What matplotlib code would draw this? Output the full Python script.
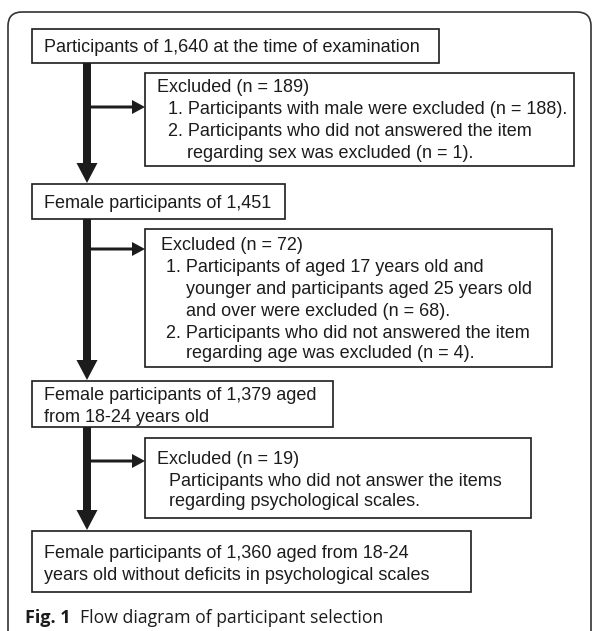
import matplotlib.pyplot as plt
from matplotlib.patches import Rectangle, FancyBboxPatch, FancyArrow

plt.rcParams['font.family'] = ['Liberation Sans', 'DejaVu Sans']

# counts in the flow
n_start = 1640
n_excl = [189, 72, 19]
n_after = [1451, 1379, 1360]

main_lines = [
    ["Participants of 1,640 at the time of examination"],
    ["Female participants of 1,451"],
    ["Female participants of 1,379 aged", "from 18-24 years old"],
    ["Female participants of 1,360 aged from 18-24",
     "years old without deficits in psychological scales"],
]
excl_lines = [
    [("Excluded (n = 189)", 0),
     ("1. Participants with male were excluded (n = 188).", 1),
     ("2. Participants who did not answered the item", 1),
     ("regarding sex was excluded (n = 1).", 2)],
    [("Excluded (n = 72)", 0),
     ("1. Participants of aged 17 years old and", 1),
     ("younger and participants aged 25 years old", 2),
     ("and over were excluded (n = 68).", 2),
     ("2. Participants who did not answered the item", 1),
     ("regarding age was excluded (n = 4).", 2)],
    [("Excluded (n = 19)", 0),
     ("Participants who did not answer the items", 1),
     ("regarding psychological scales.", 1)],
]
caption_bold = "Fig. 1"
caption_text = "Flow diagram of participant selection"

# layout in pixels (x0, y0, x1, y1), y pointing down
main_boxes = [(32, 29, 439, 63), (32, 184, 285, 219),
              (32, 381, 333, 427), (32, 531, 471, 592)]
main_text_y = [[47], [203], [395, 417], [554, 575]]
excl_boxes = [(145, 73, 574, 166), (145, 229, 552, 367), (145, 438, 531, 518)]
excl_text_y = [[88, 110, 131, 153],
               [246, 268, 289, 311, 333, 354],
               [459, 481, 502]]
indent_x = [{0: 157, 1: 168, 2: 187},
            {0: 161, 1: 166, 2: 186},
            {0: 157, 1: 169, 2: 169}]
branch_y = [107, 249, 461]

ink = '#1c1c1c'
fs = 13.0

fig = plt.figure(figsize=(5.92, 6.31), dpi=100)
ax = fig.add_axes([0, 0, 1, 1])
ax.set_xlim(0, 592)
ax.set_ylim(631, 0)
ax.axis('off')

# outer frame
ax.add_patch(FancyBboxPatch((8, 12), 583, 700, boxstyle='round,pad=0,rounding_size=14',
                            fill=False, ec='#333333', lw=1.2))

for (x0, y0, x1, y1), lines, ys in zip(main_boxes, main_lines, main_text_y):
    ax.add_patch(Rectangle((x0, y0), x1 - x0, y1 - y0, fill=False, ec=ink, lw=1.2))
    for t, y in zip(lines, ys):
        ax.text(44, y, t, fontsize=fs, color=ink, va='center', ha='left')

for (x0, y0, x1, y1), lines, ys, ind in zip(excl_boxes, excl_lines, excl_text_y, indent_x):
    ax.add_patch(Rectangle((x0, y0), x1 - x0, y1 - y0, fill=False, ec=ink, lw=1.2))
    for (t, lvl), y in zip(lines, ys):
        ax.text(ind[lvl], y, t, fontsize=fs, color=ink, va='center', ha='left')

# vertical arrows between main boxes, with side branches to exclusions
for i in range(3):
    top = main_boxes[i][3]
    tip = main_boxes[i + 1][1] - 1
    ax.add_patch(FancyArrow(87, top, 0, tip - top, width=8, head_width=21, head_length=20,
                            length_includes_head=True, color=ink, lw=0))
    ax.add_patch(FancyArrow(90, branch_y[i], excl_boxes[i][0] - 90, 0, width=3,
                            head_width=14, head_length=13, length_includes_head=True,
                            color=ink, lw=0))

ax.text(25, 618, caption_bold, fontsize=13.0, fontweight='bold', color=ink,
        va='center', ha='left', family='Open Sans')
ax.text(80, 618, caption_text, fontsize=12.7, color=ink, va='center', ha='left',
        family='Open Sans')

fig.savefig('out.png', dpi=100)
